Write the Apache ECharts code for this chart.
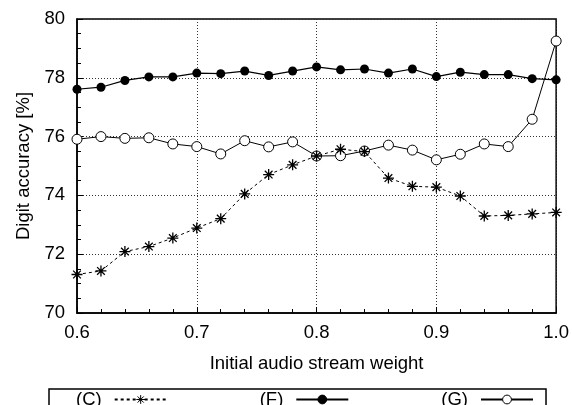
<!DOCTYPE html>
<html>
<head>
<meta charset="utf-8">
<script src="https://cdn.jsdelivr.net/npm/echarts@6/dist/echarts.min.js"></script>
<style>
  html, body { margin: 0; padding: 0; background: #fff; }
  #chart { width: 572px; height: 405px; }
</style>
</head>
<body>
<div id="chart"></div>
<script>
// initial audio stream weight
const weights = [0.60, 0.62, 0.64, 0.66, 0.68, 0.70, 0.72, 0.74, 0.76, 0.78, 0.80,
                 0.82, 0.84, 0.86, 0.88, 0.90, 0.92, 0.94, 0.96, 0.98, 1.00];
// digit accuracy [%]
const accC = [71.31, 71.43, 72.09, 72.26, 72.55, 72.89, 73.21, 74.05, 74.71, 75.04, 75.34,
              75.57, 75.49, 74.59, 74.31, 74.28, 73.98, 73.30, 73.32, 73.37, 73.42];
const accF = [77.61, 77.68, 77.91, 78.03, 78.03, 78.16, 78.14, 78.23, 78.08, 78.23, 78.37,
              78.27, 78.30, 78.16, 78.30, 78.04, 78.19, 78.11, 78.11, 77.97, 77.93];
const accG = [75.91, 76.00, 75.94, 75.96, 75.75, 75.66, 75.41, 75.86, 75.65, 75.82, 75.34,
              75.35, 75.51, 75.71, 75.54, 75.21, 75.40, 75.75, 75.66, 76.59, 79.25];
const seriesNames = ["(C)", "(F)", "(G)"];

const pairs = (ys) => weights.map((w, i) => [w, ys[i]]);

// asterisk marker (plus + x)
const starPath = "path://M0,-5L0,5M-5,0L5,0M-3.5,-3.5L3.5,3.5M-3.5,3.5L3.5,-3.5";

const chart = echarts.init(document.getElementById("chart"));

const option = {
  animation: false,
  textStyle: { fontFamily: "Liberation Sans, Arial, sans-serif", color: "#000" },
  grid: {
    left: 77, right: 13, top: 19, bottom: 92,
    show: true, borderColor: "#000", borderWidth: 1.5,
  },
  legend: {
    left: 49, top: 389,
    align: "right",
    itemWidth: 52, itemHeight: 11,
    itemGap: 92,
    padding: [1, 12, 12, 27],
    borderColor: "#000", borderWidth: 1.5,
    textStyle: { fontSize: 18.5, color: "#000", padding: [0, 8, 0, 0] },
    itemStyle: { borderWidth: 1 },
    data: seriesNames,
  },
  xAxis: {
    type: "value",
    min: 0.6, max: 1.0, interval: 0.1,
    name: "Initial audio stream weight",
    nameLocation: "middle", nameGap: 41,
    nameTextStyle: { fontSize: 18.5, color: "#000" },
    axisLine: { lineStyle: { color: "#000", width: 1.5 } },
    axisTick: { inside: true, length: 6, lineStyle: { color: "#000" } },
    minorTick: { show: true, splitNumber: 5, length: 4, lineStyle: { color: "#000" } },
    axisLabel: { fontSize: 18.5, color: "#000", margin: 10, formatter: (v) => v.toFixed(1) },
    splitLine: { show: true, lineStyle: { color: "#333", type: [1, 2], width: 1 } },
  },
  yAxis: {
    type: "value",
    min: 70, max: 80, interval: 2,
    name: "Digit accuracy [%]",
    nameLocation: "middle", nameGap: 42,
    nameTextStyle: { fontSize: 18.5, color: "#000" },
    axisLine: { show: true, lineStyle: { color: "#000", width: 1.5 } },
    axisTick: { show: true, inside: true, length: 6, lineStyle: { color: "#000" } },
    minorTick: { show: true, splitNumber: 4, length: 4, lineStyle: { color: "#000" } },
    axisLabel: { fontSize: 18.5, color: "#000", margin: 12 },
    splitLine: { show: true, lineStyle: { color: "#333", type: [1, 2], width: 1 } },
  },
  series: [
    {
      name: seriesNames[0],
      type: "line",
      data: pairs(accC),
      symbol: starPath,
      symbolSize: 11,
      showAllSymbol: true,
      lineStyle: { color: "#000", width: 1, type: [3, 3] },
      itemStyle: { color: "#000", borderColor: "#000", borderWidth: 1.3 },
      z: 3,
    },
    {
      name: seriesNames[1],
      type: "line",
      data: pairs(accF),
      symbol: "circle",
      symbolSize: 9,
      showAllSymbol: true,
      lineStyle: { color: "#000", width: 1.2 },
      itemStyle: { color: "#000", borderColor: "#000", borderWidth: 0 },
      z: 2,
    },
    {
      name: seriesNames[2],
      type: "line",
      data: pairs(accG),
      symbol: "circle",
      symbolSize: 10,
      showAllSymbol: true,
      lineStyle: { color: "#000", width: 1 },
      itemStyle: { color: "#fff", borderColor: "#000", borderWidth: 1 },
      z: 2,
    },
  ],
};

chart.setOption(option);
</script>
</body>
</html>
